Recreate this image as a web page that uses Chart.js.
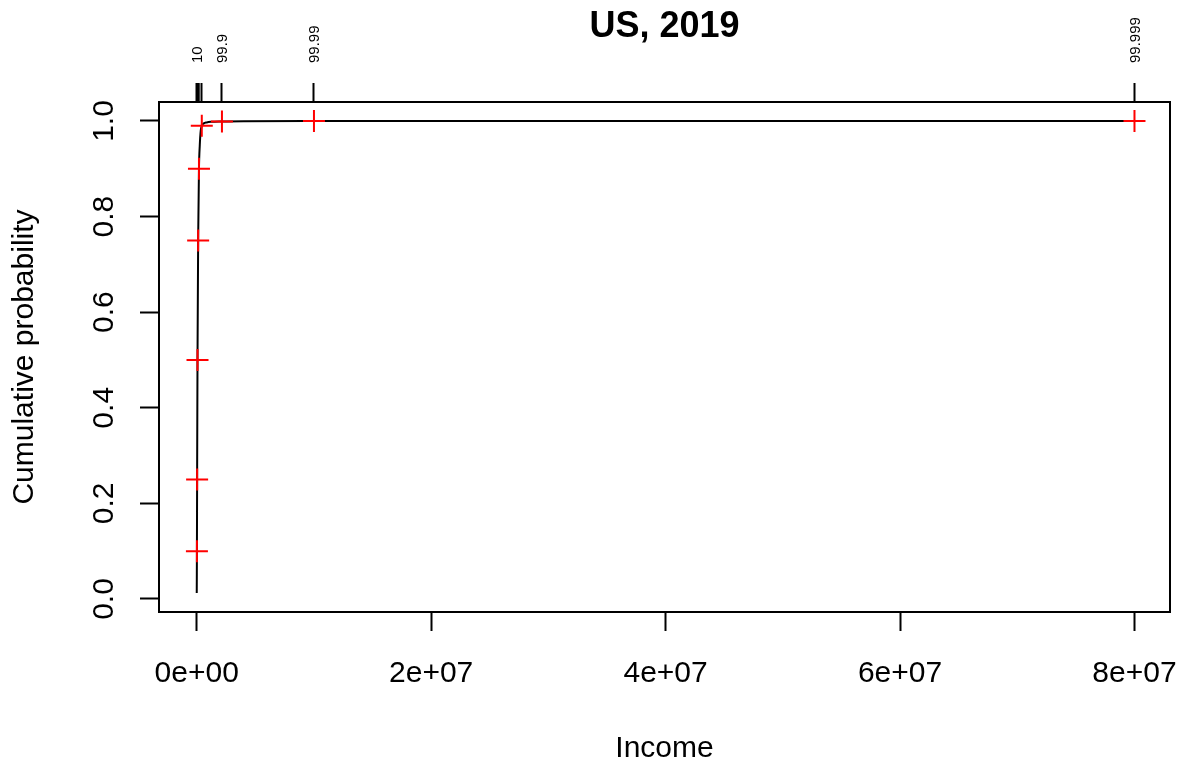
<!DOCTYPE html>
<html><head><meta charset="utf-8">
<script src="https://cdn.jsdelivr.net/npm/chart.js@4.4.0/dist/chart.umd.min.js"></script>
<style>html,body{margin:0;padding:0;background:#fff;} #wrap{width:1184px;height:763px;}</style>
</head><body><div id="wrap"><canvas id="c" width="1184" height="763"></canvas></div>
<script>
const titleText = 'US, 2019';
const xTitle = 'Income';
const yTitle = 'Cumulative probability';

// quantile points (red crosses) and top-axis ticks
const quantileProbs = [0.1, 0.25, 0.5, 0.75, 0.9, 0.99, 0.999, 0.9999, 0.99999];
const quantileIncomes = [15000, 32000, 65000, 120000, 190000, 430000, 2150000, 10000000, 80000000];
const quantileLabels = ['10', '25', '50', '75', '90', '99', '99.9', '99.99', '99.999'];

// fitted cumulative distribution curve (black line)
const curveIncomes = [0, 5000, 15000, 32000, 65000, 120000, 190000, 260000, 340000, 430000, 600000, 850000, 1200000, 2150000, 4000000, 10000000, 30000000, 80000000];
const curveProbs = [0.0125, 0.04, 0.1, 0.25, 0.5, 0.75, 0.9, 0.95, 0.98, 0.99, 0.995, 0.997, 0.9982, 0.999, 0.9996, 0.9999, 0.99997, 0.99999];

const xTickValues = [0, 2e7, 4e7, 6e7, 8e7];
const xTickLabels = ['0e+00', '2e+07', '4e+07', '6e+07', '8e+07'];
const yTickValues = [0, 0.2, 0.4, 0.6, 0.8, 1.0];
const yTickLabels = ['0.0', '0.2', '0.4', '0.6', '0.8', '1.0'];

const xRange = [-3.22e6, 8.303e7];
const yRange = [-0.0272, 1.0397];

const FONT = '"Liberation Sans", Arial, Helvetica, sans-serif';
Chart.defaults.font.family = FONT;

const tickGrid = {drawOnChartArea: false, drawTicks: true, tickLength: 19, tickColor: '#000', tickWidth: 2, color: '#000'};

const textPlugin = {
  id: 'texts',
  afterDraw(chart) {
    const {ctx, chartArea: a, scales} = chart;
    ctx.save();
    ctx.strokeStyle = '#000';
    ctx.lineWidth = 2;
    ctx.strokeRect(a.left, a.top, a.right - a.left, a.bottom - a.top);
    ctx.fillStyle = '#000';
    ctx.textAlign = 'center';
    ctx.textBaseline = 'alphabetic';
    ctx.font = 'bold 36px ' + FONT;
    ctx.fillText(titleText, (a.left + a.right) / 2, 37);
    ctx.font = '30px ' + FONT;
    xTickValues.forEach((v, i) => ctx.fillText(xTickLabels[i], scales.x.getPixelForValue(v), 682));
    ctx.fillText(xTitle, (a.left + a.right) / 2, 757);
    yTickValues.forEach((v, i) => {
      ctx.save();
      ctx.translate(113, scales.y.getPixelForValue(v));
      ctx.rotate(-Math.PI / 2);
      ctx.fillText(yTickLabels[i], 0, 0);
      ctx.restore();
    });
    ctx.save();
    ctx.translate(33, (a.top + a.bottom) / 2);
    ctx.rotate(-Math.PI / 2);
    ctx.fillText(yTitle, 0, 0);
    ctx.restore();
    ctx.font = '15px ' + FONT;
    ctx.textAlign = 'left';
    let last = -Infinity;
    quantileIncomes.forEach((v, i) => {
      const px = scales.x2.getPixelForValue(v);
      if (px - last < 16) return;
      last = px;
      ctx.save();
      ctx.translate(px + 5.4, 63);
      ctx.rotate(-Math.PI / 2);
      ctx.fillText(quantileLabels[i], 0, 0);
      ctx.restore();
    });
    ctx.restore();
  }
};

new Chart(document.getElementById('c'), {
  type: 'scatter',
  data: {
    datasets: [
      {
        label: 'quantiles',
        data: quantileIncomes.map((x, i) => ({x: x, y: quantileProbs[i]})),
        pointStyle: 'cross',
        pointRadius: 11,
        pointHoverRadius: 11,
        borderColor: '#ff0000',
        backgroundColor: '#ff0000',
        borderWidth: 2,
        showLine: false
      },
      {
        label: 'cdf',
        data: curveIncomes.map((x, i) => ({x: x, y: curveProbs[i]})),
        showLine: true,
        borderColor: '#000',
        borderWidth: 2,
        pointRadius: 0,
        fill: false,
        cubicInterpolationMode: 'monotone'
      }
    ]
  },
  options: {
    responsive: false,
    animation: false,
    events: [],
    layout: {padding: {left: 0, right: 14, top: 0, bottom: 0}},
    plugins: {legend: {display: false}, tooltip: {enabled: false}, title: {display: false}},
    scales: {
      x: {
        type: 'linear', position: 'bottom', min: xRange[0], max: xRange[1],
        grid: tickGrid, border: {display: false},
        ticks: {display: false},
        afterBuildTicks: s => { s.ticks = xTickValues.map(v => ({value: v})); },
        afterFit: s => { s.height = 151; }
      },
      x2: {
        type: 'linear', position: 'top', min: xRange[0], max: xRange[1],
        grid: tickGrid, border: {display: false},
        ticks: {display: false},
        afterBuildTicks: s => { s.ticks = quantileIncomes.map(v => ({value: v})); },
        afterFit: s => { s.height = 102; }
      },
      y: {
        type: 'linear', position: 'left', min: yRange[0], max: yRange[1],
        grid: tickGrid, border: {display: false},
        ticks: {display: false},
        afterBuildTicks: s => { s.ticks = yTickValues.map(v => ({value: v})); },
        afterFit: s => { s.width = 159; }
      }
    }
  },
  plugins: [textPlugin]
});
</script>
</body></html>
